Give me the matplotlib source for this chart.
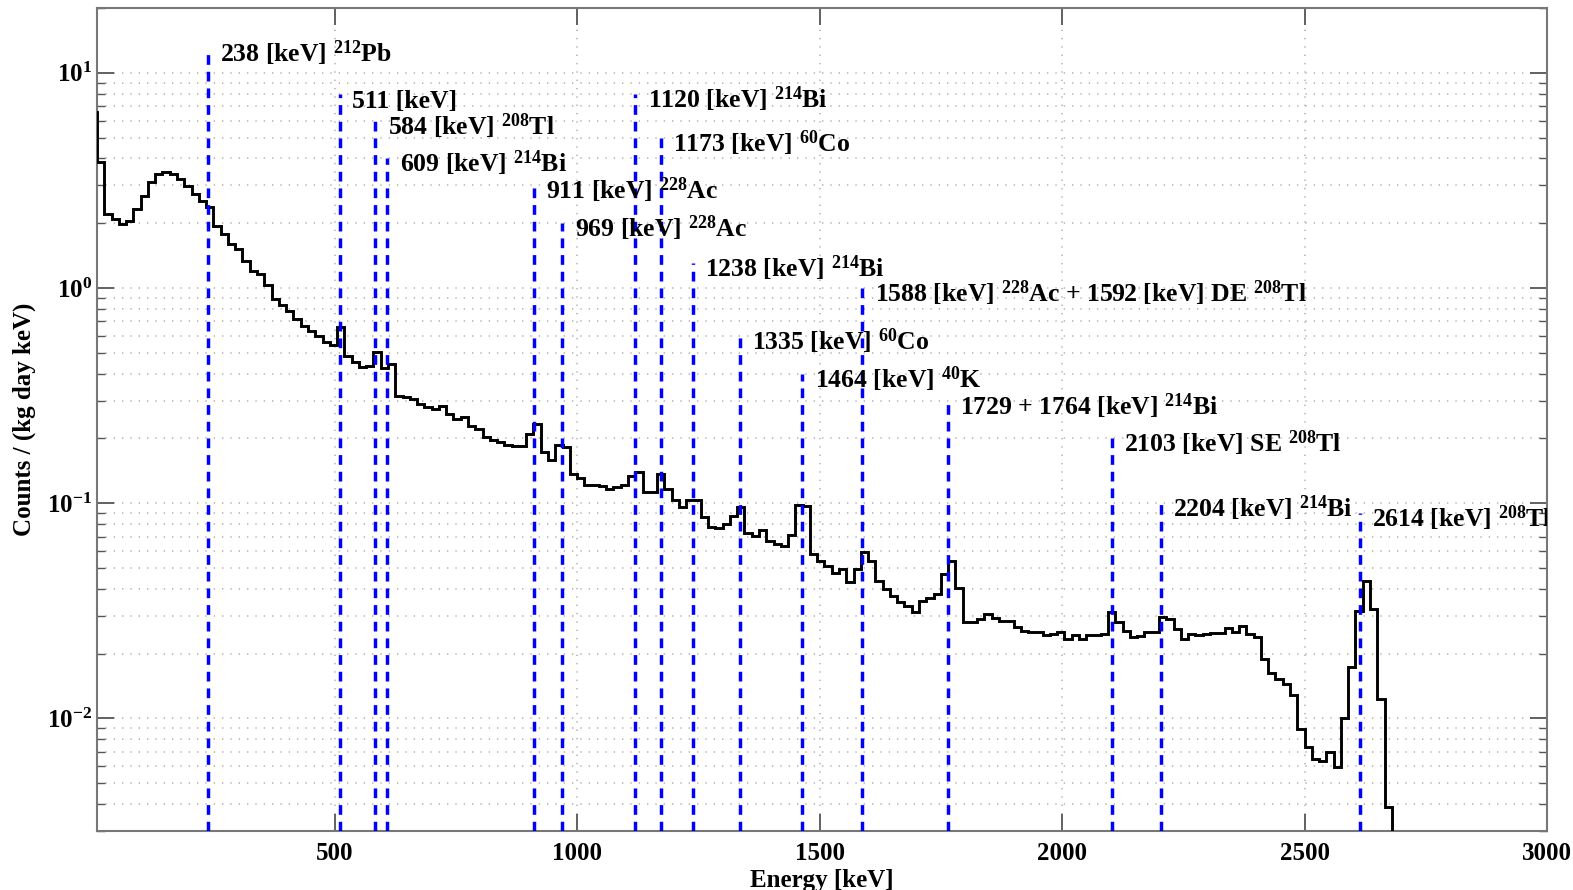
import matplotlib
matplotlib.use("Agg")
import matplotlib.pyplot as plt
import numpy as np

# spectrum, 15 keV bins starting at -5 keV
bin_width = 15
first_edge = -5
counts = [
    6.57,
    3.84, 2.21, 2.09, 1.98, 2.05, 2.33, 2.68, 3.10, 3.39, 3.47,
    3.39, 3.21, 2.99, 2.73, 2.54, 2.37, 1.95, 1.78, 1.60, 1.52,
    1.34, 1.20, 1.16, 1.03, 0.89, 0.83, 0.785, 0.718, 0.668, 0.633,
    0.600, 0.560, 0.543, 0.659, 0.485, 0.452, 0.428, 0.436, 0.503, 0.424,
    0.444, 0.316, 0.311, 0.305, 0.289, 0.279, 0.274, 0.282, 0.260, 0.246,
    0.251, 0.229, 0.221, 0.203, 0.197, 0.192, 0.187, 0.184, 0.185, 0.210,
    0.233, 0.173, 0.158, 0.187, 0.182, 0.137, 0.131, 0.121, 0.121, 0.120,
    0.117, 0.119, 0.121, 0.134, 0.140, 0.113, 0.113, 0.137, 0.116, 0.103,
    0.0958, 0.104, 0.104, 0.0861, 0.0774, 0.0766, 0.0802, 0.0871, 0.0958, 0.0728,
    0.0708, 0.0754, 0.0670, 0.0647, 0.0635, 0.0713, 0.0982, 0.0971, 0.0581, 0.0541,
    0.0513, 0.0474, 0.0495, 0.0430, 0.0495, 0.0592, 0.0541, 0.0437, 0.0400, 0.0372,
    0.0349, 0.0334, 0.0312, 0.0353, 0.0362, 0.0379, 0.0470, 0.0541, 0.0404, 0.0280,
    0.0280, 0.0290, 0.0306, 0.0292, 0.0285, 0.0285, 0.0265, 0.0256, 0.0253, 0.0252,
    0.0243, 0.0247, 0.0252, 0.0234, 0.0245, 0.0234, 0.0243, 0.0245, 0.0247, 0.0312,
    0.0280, 0.0256, 0.0239, 0.0241, 0.0252, 0.0252, 0.0296, 0.0290, 0.0261, 0.0234,
    0.0247, 0.0245, 0.0247, 0.0250, 0.0250, 0.0262, 0.0253, 0.0270, 0.0247, 0.0239,
    0.0189, 0.0163, 0.0153, 0.0145, 0.0128, 0.00895, 0.00735, 0.00649, 0.00637, 0.00697,
    0.00594, 0.0101, 0.0173, 0.0317, 0.0433, 0.0323, 0.0123, 0.00387, 0.001,
]

# gamma lines: energy, height of marker, label
line_energies = [238, 511, 584, 609, 911, 969, 1120, 1173, 1238, 1335,
                 1464, 1588, 1764, 2103, 2204, 2614]
line_tops = [13, 8, 6, 4, 3, 2, 8, 5, 1.3, 0.6,
             0.4, 1.0, 0.3, 0.2, 0.1, 0.09]
line_labels = [
    "238 [keV] $^{212}$Pb",
    "511 [keV]",
    "584 [keV] $^{208}$Tl",
    "609 [keV] $^{214}$Bi",
    "911 [keV] $^{228}$Ac",
    "969 [keV] $^{228}$Ac",
    "1120 [keV] $^{214}$Bi",
    "1173 [keV] $^{60}$Co",
    "1238 [keV] $^{214}$Bi",
    "1335 [keV] $^{60}$Co",
    "1464 [keV] $^{40}$K",
    "1588 [keV] $^{228}$Ac + 1592 [keV] DE $^{208}$Tl",
    "1729 + 1764 [keV] $^{214}$Bi",
    "2103 [keV] SE $^{208}$Tl",
    "2204 [keV] $^{214}$Bi",
    "2614 [keV] $^{208}$Tl",
]

x_ticks = [500, 1000, 1500, 2000, 2500, 3000]

plt.rcParams["font.family"] = ["Liberation Serif", "DejaVu Serif"]
plt.rcParams["font.weight"] = "bold"
plt.rcParams["mathtext.fontset"] = "custom"
plt.rcParams["mathtext.rm"] = "Liberation Serif:bold"
plt.rcParams["mathtext.it"] = "Liberation Serif:bold"
plt.rcParams["mathtext.bf"] = "Liberation Serif:bold"
plt.rcParams["mathtext.default"] = "rm"
plt.rcParams["lines.scale_dashes"] = False

fig = plt.figure(figsize=(15.73, 8.90), dpi=100)
ax = fig.add_axes([97 / 1573, 1 - 831 / 890, 1450 / 1573, 823 / 890])

edges = first_edge + bin_width * np.arange(len(counts) + 1)
ax.stairs(counts, edges, baseline=None, color="black", linewidth=2.1, zorder=3)

ymin = 3e-3
for e, top, lab in zip(line_energies, line_tops, line_labels):
    ax.plot([e, e], [ymin, top], color="#0000ff", linewidth=2.5,
            linestyle=(0, (7, 5)), zorder=4)
    ax.annotate(lab, xy=(e, top), xytext=(9, -10), textcoords="offset points",
                ha="left", va="baseline", fontsize=18.5, fontweight="bold",
                color="black", annotation_clip=False, clip_on=True, zorder=5)

ax.set_yscale("log")
ax.set_xlim(10, 3000)
ax.set_ylim(ymin, 20)
ax.set_xticks(x_ticks)
ax.set_xticklabels([str(t) for t in x_ticks])

ax.grid(True, which="major", axis="both", color="#b8b8b8",
        linestyle=(0, (1, 5)), linewidth=1.2)
ax.grid(True, which="minor", axis="y", color="#b8b8b8",
        linestyle=(0, (1, 5)), linewidth=1.2)
ax.set_axisbelow(True)

ax.tick_params(which="both", direction="in", top=True, right=True,
               color="#555555", labelsize=18)
ax.tick_params(which="major", length=12, width=1.3)
ax.tick_params(which="minor", length=6, width=1.0)
ax.tick_params(axis="x", which="minor", bottom=False, top=False)
ax.tick_params(axis="x", pad=8)
for s in ax.spines.values():
    s.set_color("#777777")
    s.set_linewidth(1.5)

ax.set_xlabel("Energy [keV]", fontsize=18, fontweight="bold", labelpad=3)
ax.set_ylabel("Counts / (kg day keV)", fontsize=18, fontweight="bold", labelpad=8)

fig.savefig("out.png", dpi=100)
